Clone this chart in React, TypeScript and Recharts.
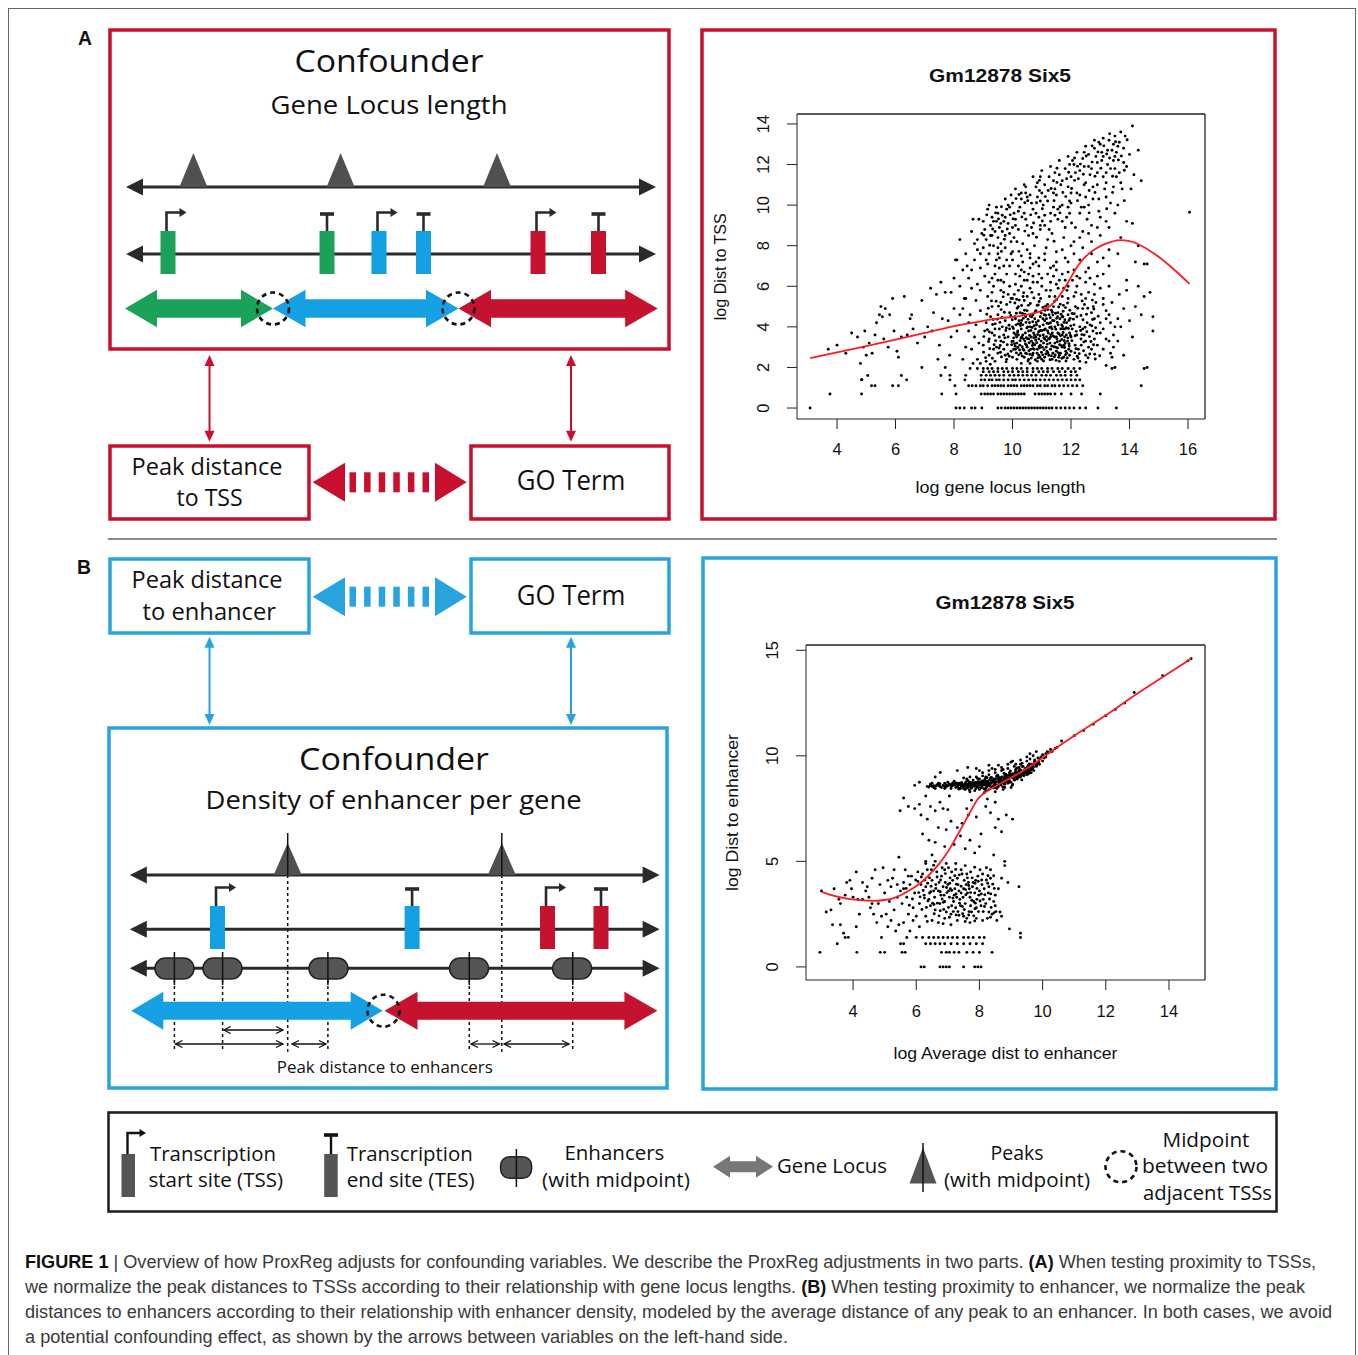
import React from 'react';
import { ScatterChart, Scatter, XAxis, YAxis, ReferenceLine } from 'recharts';

// ---------------- DATA ----------------
const xTicksA = [4, 6, 8, 10, 12, 14, 16];
const yTicksA = [0, 2, 4, 6, 8, 10, 12, 14];
const xTicksB = [4, 6, 8, 10, 12, 14];
const yTicksB = [0, 5, 10, 15];

// panel A: log gene locus length vs log Dist to TSS (flat x,y pairs)
const blobA = [
  9.0,3.1, 9.2,2.6, 9.1,4.2, 9.3,3.7, 9.4,2.3, 9.5,4.6, 9.6,3.3, 9.7,2.9, 9.8,5.1, 9.9,3.9, 10.0,2.5, 10.1,4.4, 10.2,3.6, 10.3,2.2, 10.4,5.3, 10.5,3.0, 10.6,4.0, 10.7,2.7, 10.8,4.8, 10.9,3.4, 11.0,2.4, 11.1,4.3, 11.2,3.8, 11.3,2.9, 11.4,5.0, 11.5,3.5, 11.6,2.6, 11.7,4.5, 11.8,3.2, 11.9,5.4, 12.0,2.8, 12.1,4.1, 12.2,3.6, 12.3,2.3, 12.4,4.9, 12.5,3.3, 12.6,5.7, 12.7,2.9, 12.8,4.4,
  8.9,4.8, 9.15,5.5, 9.35,2.9, 9.55,3.9, 9.75,4.3, 9.95,2.8, 10.15,3.2, 10.35,4.1, 10.55,2.4, 10.75,3.6, 10.95,4.5, 11.15,3.0, 11.35,3.9, 11.55,4.7, 11.75,2.5, 11.95,3.7, 12.15,5.0, 12.35,3.1, 12.55,4.2, 12.75,3.8,
  10.05,3.7, 10.25,3.1, 10.45,4.5, 10.65,3.3, 10.85,2.9, 11.05,3.6, 11.25,4.6, 11.45,3.2, 11.65,3.9, 11.85,4.2, 10.1,2.9, 10.3,3.9, 10.5,4.8, 10.7,3.2, 10.9,2.6, 11.1,3.4, 11.3,4.2, 11.5,2.8, 11.7,3.6, 11.9,4.6,
  10.12,4.1, 10.38,3.4, 10.62,2.9, 10.88,4.3, 11.12,3.9, 11.38,2.7, 11.62,4.4, 11.88,3.3, 10.2,5.0, 10.45,2.7, 10.7,4.6, 10.95,3.1, 11.2,5.1, 11.45,4.0, 11.7,3.0, 11.95,2.6,
  10.0,4.0, 10.35,3.6, 10.55,3.8, 10.8,3.5, 11.05,4.1, 11.3,3.5, 11.55,3.7, 11.8,3.9, 10.15,2.4, 10.4,2.5, 10.6,2.2, 10.85,2.3, 11.1,2.5, 11.35,2.4, 11.6,2.3, 11.85,2.7, 12.1,2.4,
  9.2,3.4, 9.45,3.0, 9.65,4.0, 9.85,3.5, 9.25,4.5, 9.5,2.7, 9.7,3.6, 9.9,4.7, 9.1,2.3, 9.4,3.9, 9.6,5.2, 9.8,2.4, 9.05,3.8, 9.3,5.0, 9.55,3.5, 9.75,2.6, 9.95,5.4,
  12.0,3.5, 12.2,4.5, 12.4,3.9, 12.6,3.0, 12.8,3.4, 12.1,5.5, 12.3,4.0, 12.5,2.6, 12.7,4.7, 12.9,3.1, 12.25,2.9, 12.45,3.6, 12.65,4.1, 12.85,5.2, 13.0,3.7, 13.1,2.9, 13.2,4.4, 13.3,3.3, 13.4,2.5, 13.5,4.0,
  8.6,2.9, 8.7,3.5, 8.8,2.4, 8.75,4.1, 8.5,3.8, 8.65,2.2, 8.85,3.2, 8.55,4.6, 8.4,3.0, 8.9,2.2,
  10.5,5.5, 10.9,5.6, 11.3,5.8, 11.7,5.5, 10.2,5.8, 11.0,6.0, 11.5,6.1, 10.7,6.2, 9.9,6.0, 11.8,6.3, 12.2,6.0, 12.5,5.4, 9.6,5.8, 10.4,6.3,
  10.02,3.3, 10.18,3.8, 10.28,2.7, 10.42,3.3, 10.58,4.2, 10.68,2.6, 10.78,3.9, 10.92,3.8, 11.02,3.0, 11.08,4.6, 11.18,2.8, 11.28,3.2, 11.42,4.3, 11.52,3.4, 11.58,2.5, 11.68,4.1, 11.78,3.5, 11.92,2.9, 10.08,4.5, 10.22,4.3, 10.32,3.5, 10.48,3.1, 10.52,4.0, 10.72,3.7, 10.82,4.1, 10.98,3.3, 11.22,3.7, 11.32,4.0, 11.48,3.0, 11.62,3.3, 11.72,4.5, 11.82,2.8,
  10.14,3.5, 10.36,2.9, 10.64,3.5, 10.76,4.4, 10.94,2.5, 11.16,4.4, 11.36,3.7, 11.56,4.1, 11.76,3.1, 10.26,4.7, 10.44,3.7, 10.66,4.5, 10.84,2.7, 11.04,4.4, 11.24,2.6, 11.44,3.5, 11.64,2.7, 11.84,3.6, 10.04,2.9, 10.56,3.4, 10.74,2.9, 11.06,3.2, 11.26,3.4, 11.54,4.5, 11.74,3.9, 12.04,3.9, 12.14,3.1, 12.34,3.4,
  10.09,3.05, 10.19,4.15, 10.29,3.45, 10.39,2.85, 10.49,3.95, 10.59,2.65, 10.69,4.25, 10.79,3.35, 10.89,3.75, 10.99,2.75, 11.09,3.85, 11.19,3.15, 11.29,4.45, 11.39,3.55, 11.49,2.35, 11.59,3.65, 11.69,2.45, 11.79,4.35, 11.89,3.45, 11.99,4.05,
  9.59,2.75, 9.69,3.25, 9.79,3.95, 9.89,2.55, 9.99,4.35, 10.31,5.05, 10.61,5.15, 10.91,5.25, 11.21,4.85, 11.51,5.35, 11.81,4.95, 12.11,4.65, 12.41,4.35, 12.71,4.05, 12.21,2.55, 12.51,2.25, 12.81,2.65, 9.41,4.15, 9.21,3.75, 9.01,2.75, 9.31,2.45, 9.61,4.85,
  10.06,5.6, 10.36,5.5, 10.66,5.7, 10.96,5.4, 11.26,5.5, 11.56,5.9, 11.86,5.8, 12.16,5.7, 12.46,5.1, 12.76,5.0,
];
const blobA2 = [
  9.02,3.52, 9.12,4.62, 9.22,2.92, 9.32,4.12, 9.42,3.32, 9.52,5.02, 9.62,2.52, 9.72,4.72, 9.82,3.12, 9.92,5.22, 10.03,3.92, 10.13,2.72, 10.23,5.32, 10.33,3.02, 10.43,4.62, 10.53,2.32, 10.63,3.82, 10.73,5.42, 10.83,3.22, 10.93,4.02, 11.03,2.62, 11.13,5.02, 11.23,3.42, 11.33,4.82, 11.43,2.52, 11.53,4.22, 11.63,5.12, 11.73,3.72, 11.83,2.32, 11.93,4.32, 12.03,3.32, 12.13,2.72, 12.23,4.92, 12.33,3.82, 12.43,2.82, 12.53,4.62, 12.63,3.52, 12.73,5.32, 12.83,2.42, 12.93,4.52,
  9.08,2.48, 9.18,3.28, 9.28,5.28, 9.38,3.58, 9.48,4.38, 9.58,3.08, 9.68,5.48, 9.78,2.28, 9.88,4.08, 9.98,3.28, 10.08,5.18, 10.18,2.98, 10.28,4.18, 10.38,5.68, 10.48,2.68, 10.58,3.58, 10.68,3.08, 10.78,2.38, 10.88,5.08, 10.98,4.68, 11.08,2.88, 11.18,4.18, 11.28,2.38, 11.38,4.58, 11.48,3.88, 11.58,4.98, 11.68,3.38, 11.78,2.98, 11.88,5.18, 11.98,3.58, 12.08,4.38, 12.18,3.78, 12.28,2.68, 12.38,5.28, 12.48,3.98, 12.58,2.48, 12.68,3.28, 12.78,4.88, 12.88,3.68, 12.98,2.58,
  10.11,3.62, 10.21,2.62, 10.31,4.32, 10.41,4.82, 10.51,3.42, 10.61,4.52, 10.71,2.92, 10.81,4.22, 10.91,3.02, 11.01,3.82, 11.11,4.82, 11.21,2.72, 11.31,3.62, 11.41,3.02, 11.51,4.42, 11.61,3.12, 11.71,4.02, 11.81,2.62, 11.91,3.92, 10.16,4.92, 10.46,4.22, 10.76,3.12, 11.06,2.32, 11.36,4.72, 11.66,4.62, 11.96,4.82, 10.26,3.32, 10.56,2.82, 10.86,3.62, 11.16,3.52, 11.46,2.62, 11.76,4.22,
  9.5,6.3, 9.8,6.6, 10.1,6.1, 10.4,6.7, 10.7,6.5, 11.0,6.4, 11.3,6.9, 11.6,6.3, 11.9,6.0, 12.2,6.5, 12.5,6.2, 12.8,5.6, 13.1,5.1, 13.3,4.6, 13.45,3.6, 13.6,4.4, 13.2,3.4, 13.0,4.2, 13.1,3.9, 13.35,2.7, 9.35,6.0, 9.7,5.7, 10.0,5.4, 10.25,6.5, 10.55,6.6, 10.85,6.2, 11.15,5.8, 11.45,5.5, 11.75,5.9, 12.05,6.3, 12.35,5.6, 12.65,6.4,
];
const blobA3 = [
  9.14,3.86, 9.24,2.16, 9.34,4.36, 9.44,5.26, 9.54,2.96, 9.64,4.46, 9.74,3.46, 9.84,2.66, 9.94,4.56, 10.04,3.46, 10.14,5.36, 10.24,2.86, 10.34,4.66, 10.44,3.16, 10.54,5.06, 10.64,2.46, 10.74,4.06, 10.84,5.06, 10.94,3.56, 11.04,4.96, 11.14,2.66, 11.24,4.16, 11.34,3.06, 11.44,5.26, 11.54,2.96, 11.64,3.56, 11.74,5.06, 11.84,3.96, 11.94,3.06, 12.04,4.66, 12.14,3.56, 12.24,2.46, 12.34,4.56, 12.44,3.26, 12.54,3.76, 12.64,2.66, 12.74,4.36, 12.84,3.96,
  9.17,4.92, 9.37,3.12, 9.57,4.22, 9.77,3.82, 9.97,3.12, 10.17,3.72, 10.37,4.42, 10.57,3.22, 10.77,4.72, 10.97,3.82, 11.17,3.32, 11.37,4.32, 11.57,2.72, 11.77,3.32, 11.97,4.42, 12.17,2.92, 12.37,3.62, 12.57,4.92, 12.77,3.12,
  10.07,3.17, 10.27,4.07, 10.47,3.47, 10.67,3.97, 10.87,2.47, 11.07,3.47, 11.27,3.97, 11.47,4.67, 11.67,3.07, 11.87,2.47, 10.13,4.67, 10.33,2.57, 10.53,4.37, 10.73,3.47, 10.93,2.97, 11.13,4.57, 11.33,2.57, 11.53,3.27, 11.73,4.77, 11.93,3.17,
  8.6,6.8, 8.9,5.8, 9.1,7.3, 9.3,6.4, 9.5,7.6, 9.7,6.2, 9.9,7.0, 10.1,6.6, 10.3,7.5, 10.5,6.3, 10.7,7.1, 10.9,6.6, 11.1,7.3, 11.3,6.2, 11.5,6.8, 11.7,6.6, 11.9,7.2, 12.1,6.8, 12.3,7.3, 12.5,6.7, 12.7,7.6, 12.9,6.5, 13.1,7.4, 13.3,7.8, 8.4,7.6, 8.2,8.3, 8.8,8.3, 9.4,7.0, 10.0,7.7, 10.6,7.4,
];
const bandA = [
  8.6,8.7, 8.8,7.8, 9.0,9.2, 9.1,8.3, 9.2,7.6, 9.3,9.4, 9.4,8.7, 9.5,9.6, 9.6,8.1, 9.7,9.2, 9.8,9.8, 9.9,8.6, 10.0,10.1, 10.1,9.3, 10.2,8.8, 10.3,10.3, 10.4,9.6, 10.5,9.0, 10.6,10.5, 10.7,9.8, 10.8,10.9, 10.9,9.4, 11.0,10.6, 11.1,11.0, 11.2,10.2, 11.3,9.6, 11.4,11.2, 11.5,10.5, 11.6,11.5, 11.7,10.0, 11.8,11.8, 11.9,10.9, 12.0,11.4, 12.1,12.0, 12.2,10.6, 12.3,11.7, 12.4,12.3, 12.5,11.1, 12.6,12.5, 12.7,11.8, 12.8,12.8, 12.9,12.1, 13.0,13.0, 13.1,12.4, 13.2,11.6, 13.3,13.2, 13.4,12.7, 13.5,13.4, 13.6,12.9, 13.7,13.6, 13.45,12.2, 13.25,12.0,
  9.05,8.8, 9.25,9.0, 9.45,9.9, 9.65,9.5, 9.85,10.0, 10.05,9.6, 10.25,9.9, 10.45,10.6, 10.65,10.1, 10.85,10.4, 11.05,10.0, 11.25,11.4, 11.45,10.8, 11.65,11.0, 11.85,11.3, 12.05,12.2, 12.25,11.3, 12.45,11.9, 12.65,11.5, 12.85,12.4, 13.05,12.6, 13.25,12.7, 13.55,12.6, 13.65,13.1, 13.85,13.4,
  9.15,7.1, 9.35,8.0, 9.55,7.4, 9.75,8.5, 9.95,7.6, 10.15,8.2, 10.35,7.2, 10.55,8.5, 10.75,8.0, 10.95,8.8, 11.15,7.9, 11.35,8.6, 11.55,9.3, 11.75,8.4, 11.95,9.6, 12.15,8.9, 12.35,9.9, 12.55,9.3, 12.75,10.3, 12.95,9.7, 13.15,10.8, 13.35,10.1, 13.55,11.4, 13.75,10.8, 13.9,11.9,
  10.1,10.8, 10.4,11.0, 10.7,11.4, 11.0,11.7, 11.3,11.9, 11.6,12.2, 11.9,12.4, 12.2,12.6, 12.5,12.9, 12.8,13.2, 13.1,13.3, 11.1,9.0, 11.4,9.9, 11.7,9.2, 12.0,10.1, 12.3,10.5, 12.6,10.0, 12.9,11.0, 13.2,11.1, 10.6,7.6, 10.9,7.4, 11.2,8.3, 11.5,7.7, 11.8,8.9, 12.1,8.2, 12.4,8.7, 12.7,9.0, 13.0,9.4, 13.3,8.9,
  9.4,6.6, 9.7,7.0, 10.0,7.3, 10.3,6.8, 10.6,6.9, 10.9,7.0, 11.2,6.6, 11.5,7.2, 11.8,7.4, 12.1,7.6, 12.4,7.9, 12.7,8.2, 13.0,8.5, 9.2,6.2, 8.9,6.9, 8.7,7.3, 8.5,6.4, 8.3,6.8, 8.8,6.1, 9.6,6.3,
  13.5,11.8, 13.6,10.0, 13.8,12.8, 14.0,12.5, 14.1,13.9, 14.15,11.5, 14.05,10.8, 13.9,9.2, 14.3,12.7, 14.4,11.2, 14.2,7.2, 13.7,8.4,
  9.35,9.2, 9.55,8.9, 9.75,9.4, 9.5,8.4, 9.85,9.1, 10.0,8.9, 9.25,8.5, 9.65,8.7,
];
const bandA2 = [
  9.12,9.52, 9.32,8.82, 9.52,9.32, 9.72,8.32, 9.92,9.52, 10.12,10.32, 10.32,9.42, 10.52,10.22, 10.72,9.12, 10.92,10.72, 11.12,10.42, 11.32,10.82, 11.52,11.12, 11.72,10.62, 11.92,11.62, 12.12,11.22, 12.32,12.02, 12.52,12.42, 12.72,12.12, 12.92,12.62, 13.12,12.92, 13.32,12.32, 13.52,13.12, 13.72,12.42, 13.92,13.22,
  9.22,8.02, 9.42,9.62, 9.62,9.92, 9.82,8.82, 10.02,9.32, 10.22,10.52, 10.42,10.12, 10.62,9.52, 10.82,10.12, 11.02,9.22, 11.22,10.72, 11.42,10.22, 11.62,9.62, 11.82,10.42, 12.02,10.82, 12.22,11.92, 12.42,11.52, 12.62,10.72, 12.82,11.42, 13.02,11.82, 13.22,12.52, 13.42,11.42, 13.62,12.22, 13.82,11.72,
  9.02,8.52, 9.62,7.72, 10.22,7.72, 10.82,8.42, 11.42,8.22, 12.02,9.12, 12.62,9.62, 13.22,9.82, 13.82,10.22, 10.42,8.72, 11.02,9.82, 11.62,9.92, 12.22,10.22, 12.82,10.62, 13.42,10.62, 10.92,11.22, 11.52,11.82, 12.12,12.32, 12.72,12.92, 13.32,13.52,
  9.8,7.3, 10.2,7.0, 10.5,7.8, 10.8,7.2, 11.1,7.6, 11.4,7.0, 11.7,7.8, 12.0,8.0, 12.3,8.4, 12.6,8.6, 12.9,8.9, 13.2,9.2, 13.5,9.6, 8.9,7.6, 9.5,7.9, 10.1,9.0, 10.7,8.6, 11.3,9.2, 11.9,9.9, 12.5,10.4, 13.1,11.4, 13.7,11.1,
];
const bandA3 = [
  8.7,8.1, 8.85,9.3, 9.0,7.9, 9.15,9.8, 9.3,8.5, 9.45,7.3, 9.6,9.1, 9.75,7.9, 9.9,9.9, 10.05,8.4, 10.2,9.7, 10.35,8.1, 10.5,10.4, 10.65,8.9, 10.8,9.6, 10.95,10.2, 11.1,9.5, 11.25,8.8, 11.4,10.6, 11.55,9.8, 11.7,11.2, 11.85,9.4, 12.0,10.6, 12.15,11.6, 12.3,9.6, 12.45,11.0, 12.6,11.9, 12.75,10.9, 12.9,11.6, 13.05,12.2, 13.2,10.4, 13.35,11.8, 13.5,12.4, 13.65,11.6, 13.8,12.1,
  9.95,10.5, 10.45,10.9, 10.95,11.4, 11.45,11.6, 11.95,12.0, 12.45,12.6, 12.95,13.1, 13.45,13.0, 8.95,8.6, 9.45,9.2, 9.95,8.2, 10.45,9.3, 10.95,9.0, 11.45,9.5, 11.95,10.2, 12.45,9.9, 12.95,10.3, 13.45,10.9, 8.65,9.3, 9.2,10.0, 9.75,10.3, 10.3,10.6, 10.85,11.1,
];
const sparseA = [
  8.1,7.3, 8.2,6.0, 8.4,5.4, 8.6,5.9, 8.0,6.4, 8.3,4.9, 7.9,5.7, 8.45,7.0, 8.75,5.3, 9.05,6.5, 9.3,5.7, 9.55,6.9, 9.85,5.6, 10.3,6.0, 10.6,5.9, 11.4,6.5, 11.9,6.7, 12.3,6.4, 12.6,6.9, 12.9,7.2, 12.8,6.1, 13.1,6.6, 13.3,7.0, 13.0,5.9,
  13.2,2.1, 13.5,2.0, 13.6,3.3, 13.8,4.9, 13.9,5.8, 14.0,4.3, 14.1,3.5, 14.2,5.0, 14.3,6.0, 14.4,4.6, 14.5,5.5, 14.6,2.0, 14.8,4.5, 14.8,3.8, 14.7,5.7, 14.5,7.1, 14.3,8.0, 14.6,7.1, 14.1,9.1, 13.9,6.3, 13.7,4.0, 13.4,5.2, 13.3,6.0, 13.6,7.6, 13.2,4.8, 13.45,3.0, 13.8,2.6, 16.05,9.65, 13.1,5.4, 13.35,4.2, 13.65,5.6,
  3.7,2.9, 4.0,3.1, 4.3,2.7, 4.5,3.7, 4.7,3.5, 4.8,2.2, 4.85,1.4, 4.95,3.8, 5.1,3.2, 5.2,2.7, 5.3,3.6, 5.35,4.2, 5.45,4.6, 5.5,5.0, 5.6,3.4, 5.65,4.9, 5.75,3.0, 5.8,4.6, 5.9,5.4, 5.95,3.8, 6.05,2.8, 6.1,2.5, 6.2,3.5, 6.3,5.5, 6.4,3.6, 6.5,4.4, 6.6,3.9, 6.75,3.2, 6.9,5.3, 7.0,3.5, 7.1,4.0, 7.2,5.9, 7.3,4.7, 7.4,5.6, 7.5,3.1, 7.55,6.2, 7.6,4.4, 7.7,5.7, 7.8,4.3, 7.9,3.5, 8.0,4.9, 8.05,7.3, 8.1,3.8, 8.2,4.6, 8.3,2.4, 8.35,5.4, 8.5,4.2, 7.85,2.6, 7.45,2.4, 5.0,2.6, 5.3,1.1, 6.2,1.6, 5.05,1.6, 6.9,2.0, 7.55,1.6, 7.7,2.0, 4.9,3.0, 6.55,4.6, 7.25,3.8, 5.55,4.5,
];
const rowsA = [
  { y: 0, xs: [3.08, 8.07, 8.2, 8.35, 8.6, 8.72, 8.95, 9.5, 9.62, 9.75, 9.85, 9.95, 10.05, 10.15, 10.25, 10.35, 10.45, 10.55, 10.65, 10.75, 10.85, 10.95, 11.05, 11.15, 11.25, 11.35, 11.5, 11.65, 11.8, 11.95, 12.1, 12.3, 12.5, 12.92, 13.55] },
  { y: 0.69, xs: [3.76, 4.84, 7.58, 8.07, 8.93, 9.05, 9.15, 9.25, 9.35, 9.5, 9.6, 9.7, 9.8, 9.9, 10.0, 10.1, 10.2, 10.3, 10.4, 10.77, 10.9, 11.0, 11.1, 11.2, 11.3, 11.45, 11.67, 12.0, 12.36, 13.0] },
  { y: 1.1, xs: [5.18, 5.9, 6.1, 8.03, 8.5, 8.62, 8.75, 8.9, 9.0, 9.15, 9.3, 9.4, 9.5, 9.6, 9.7, 9.85, 9.95, 10.05, 10.15, 10.3, 10.4, 10.5, 10.6, 10.7, 10.85, 10.95, 11.1, 11.2, 11.35, 11.45, 11.6, 11.75, 11.9, 12.05, 12.2, 12.4, 14.4] },
  { y: 1.39, xs: [4.84, 6.38, 7.86, 8.37, 8.93, 9.05, 9.2, 9.3, 9.45, 9.55, 9.7, 9.85, 10.0, 10.1, 10.25, 10.4, 10.55, 10.7, 10.8, 10.95, 11.1, 11.25, 11.4, 11.55, 11.7, 11.85, 12.0, 12.15, 12.3] },
  { y: 1.61, xs: [7.86, 8.4, 8.93, 9.1, 9.25, 9.4, 9.55, 9.7, 9.9, 10.05, 10.2, 10.35, 10.5, 10.65, 10.8, 11.0, 11.15, 11.3, 11.5, 11.65, 11.8, 12.0, 12.2] },
  { y: 1.79, xs: [9.0, 9.2, 9.35, 9.5, 9.7, 9.85, 10.0, 10.2, 10.35, 10.5, 10.7, 10.9, 11.05, 11.2, 11.4, 11.6, 11.8, 12.0, 12.15] },
  { y: 1.95, xs: [8.55, 8.8, 9.0, 9.15, 9.3, 9.5, 9.65, 9.8, 10.0, 10.15, 10.3, 10.5, 10.7, 10.85, 11.0, 11.2, 11.35, 11.55, 11.7, 11.9, 12.1, 12.3, 13.4, 14.5] },
];
const curveA = [
  [3.08, 2.46], [4, 2.74], [5, 3.05], [6, 3.37], [7, 3.7], [8, 4.04], [9, 4.3], [9.6, 4.43], [10.1, 4.5], [10.5, 4.6], [11, 4.8], [11.3, 5.05], [11.56, 5.45], [11.8, 5.95], [12.0, 6.45], [12.25, 7.05], [12.6, 7.6], [12.9, 7.9], [13.2, 8.1], [13.67, 8.27], [14.0, 8.22], [14.4, 8.0], [14.9, 7.55], [15.5, 6.85], [16.05, 6.12],
];

// panel B: log Average dist to enhancer vs log Dist to enhancer
const bandB = [
  6.35,8.55, 6.45,8.6, 6.55,8.5, 6.65,8.62, 6.75,8.55, 6.85,8.6, 6.95,8.52, 7.05,8.65, 7.15,8.58, 7.25,8.5, 7.35,8.63, 7.45,8.55, 7.55,8.7, 7.65,8.6, 7.75,8.5, 7.85,8.68, 7.95,8.58, 8.05,8.75, 8.15,8.62, 8.25,8.8, 8.35,8.7, 8.45,8.9, 8.55,8.78, 8.65,8.95, 8.75,8.85, 8.85,9.05, 8.95,8.95, 9.05,9.15, 9.15,9.05, 9.25,9.3, 9.35,9.2, 9.45,9.4, 9.55,9.55, 9.65,9.6, 9.75,9.8, 9.85,9.9,
  7.0,8.75, 7.2,8.8, 7.4,8.45, 7.6,8.9, 7.8,8.85, 7.9,9.0, 8.0,8.4, 8.1,9.05, 8.2,8.45, 8.3,9.1, 8.4,8.5, 8.5,9.2, 8.6,8.55, 8.7,9.3, 8.8,8.65, 8.9,9.4, 9.0,8.75, 9.1,9.5, 9.2,8.9, 9.3,9.6, 9.4,9.05, 9.5,9.75, 9.6,9.2, 9.7,10.0,
  7.7,8.3, 7.85,8.35, 8.0,8.9, 8.15,8.25, 8.3,8.4, 8.45,8.6, 8.6,9.0, 8.75,8.4, 8.9,8.7, 9.05,8.65, 9.2,9.2, 9.35,9.5, 9.5,9.1, 9.65,9.35, 8.1,8.7, 8.25,8.55, 8.4,8.85, 8.55,8.45, 8.7,8.7, 8.85,8.8, 9.0,9.0, 9.15,9.35, 9.3,9.0,
  7.5,8.45, 7.3,8.7, 7.1,8.45, 6.9,8.7, 6.6,8.45, 6.5,8.7, 6.7,8.7, 6.9,8.45, 7.25,8.72, 7.55,8.4, 7.7,8.75, 7.95,8.78, 8.2,9.0, 8.35,8.95, 8.5,8.5, 8.65,8.8, 8.8,9.1, 8.95,9.2, 9.1,8.85, 9.25,9.45, 9.4,9.25, 9.55,9.35, 9.7,9.5, 9.8,9.7, 9.9,9.85, 10.0,10.05, 10.1,10.1, 10.2,10.15, 10.3,10.2,
  8.1,9.2, 8.3,9.3, 8.5,9.35, 8.7,9.45, 8.9,9.6, 9.0,9.7, 9.3,9.8, 9.5,9.95, 9.6,10.1, 9.8,10.2, 8.2,8.35, 8.5,8.3, 8.8,8.5, 9.0,8.5, 7.7,9.0, 7.5,8.95, 8.0,9.3,
  7.52,8.62, 7.62,8.48, 7.72,8.66, 7.82,8.56, 7.92,8.72, 8.02,8.6, 8.12,8.82, 8.22,8.68, 8.32,8.86, 8.42,8.74, 8.52,8.92, 8.62,8.82, 8.72,9.0, 8.82,8.92, 8.92,9.08, 9.02,9.02, 9.12,9.18, 9.22,9.12, 9.32,9.32, 9.42,9.28, 9.52,9.46, 9.62,9.44, 9.72,9.62,
  7.58,8.78, 7.68,8.38, 7.78,8.74, 7.88,8.44, 7.98,8.66, 8.08,8.52, 8.18,8.9, 8.28,8.62, 8.38,8.98, 8.48,8.66, 8.58,9.08, 8.68,8.62, 8.78,9.18, 8.88,8.88, 8.98,9.28, 9.08,8.92, 9.18,9.42, 9.28,9.08, 9.38,9.5, 9.48,9.2, 9.58,9.62, 9.68,9.4, 9.78,9.58, 9.88,9.72, 9.95,9.95, 10.05,9.9, 10.15,10.2,
  8.05,8.48, 8.35,8.55, 8.65,8.7, 8.95,8.82, 7.45,8.68, 7.35,8.42, 7.15,8.7, 6.95,8.62, 6.75,8.68, 6.55,8.58, 6.4,8.52,
  10.45,10.4, 10.6,10.7, 11.0,10.95, 11.3,11.2, 11.6,11.5, 12.0,11.9, 12.3,12.2, 12.6,12.5, 12.9,13.0, 13.8,13.8, 14.6,14.5, 14.7,14.6,
  6.76,9.21, 7.63,9.45, 6.1,8.75, 5.95,8.6, 6.6,9.0, 7.3,9.3, 8.6,9.55, 9.05,9.75, 8.3,9.55, 7.9,9.4,
];
const bandB2 = [
  7.3,8.56, 7.4,8.64, 7.5,8.52, 7.6,8.66, 7.7,8.54, 7.8,8.7, 7.9,8.58, 8.0,8.76, 8.1,8.62, 8.2,8.8, 8.3,8.66, 8.4,8.84, 8.5,8.72, 8.6,8.9, 8.7,8.78, 8.8,8.98, 8.9,8.86, 9.0,9.06, 9.1,8.96, 9.2,9.14, 9.3,9.08, 9.4,9.2, 9.5,9.3, 9.6,9.32, 9.7,9.46, 9.8,9.5,
  7.34,8.48, 7.44,8.74, 7.54,8.58, 7.64,8.82, 7.74,8.46, 7.84,8.62, 7.94,8.92, 8.04,8.66, 8.14,8.44, 8.24,8.96, 8.34,8.62, 8.44,8.48, 8.54,9.04, 8.64,8.68, 8.74,8.52, 8.84,9.12, 8.94,8.76, 9.04,8.6, 9.14,9.26, 9.24,8.98, 9.34,8.86, 9.44,9.36, 9.54,9.14, 9.64,9.2, 9.74,9.72, 9.84,9.64,
  7.27,8.6, 7.47,8.6, 7.67,8.7, 7.87,8.74, 8.07,8.7, 8.27,8.74, 8.47,8.8, 8.67,8.86, 8.87,8.96, 9.07,9.1, 9.27,9.2, 9.47,9.36, 9.67,9.56, 7.37,8.7, 7.57,8.46, 7.77,8.62, 7.97,8.5, 8.17,8.72, 8.37,8.76, 8.57,8.62, 8.77,8.7, 8.97,9.0, 9.17,8.98, 9.37,9.12, 9.57,9.28, 6.8,8.5, 6.62,8.56, 7.0,8.58, 6.45,8.65, 7.1,8.62, 7.2,8.64,
  9.9,9.6, 10.0,9.75, 10.1,9.95, 9.35,9.65, 9.15,9.6, 8.4,9.4, 8.75,9.35, 9.6,9.85, 10.25,10.3, 10.4,10.35,
  7.42,8.58, 7.58,8.64, 7.72,8.58, 7.88,8.68, 8.02,8.64, 8.18,8.76, 8.32,8.7, 8.48,8.86, 8.62,8.76, 8.78,8.92, 8.92,8.9, 9.08,9.04, 9.22,9.04, 9.38,9.24, 9.52,9.22, 9.68,9.38, 9.82,9.56, 7.62,8.54, 7.78,8.66, 7.92,8.52, 8.08,8.8, 8.22,8.58, 8.38,8.82, 8.52,8.62, 8.68,8.96, 8.82,8.78, 8.98,9.12, 9.12,8.86, 9.28,9.36, 9.42,9.1, 9.58,9.5, 9.72,9.3, 6.5,8.56, 6.7,8.6, 6.9,8.56, 7.1,8.54, 7.3,8.62,
];
const midB = [
  5.49,7.4, 5.75,7.6, 5.95,7.5, 6.1,7.7, 6.35,7.0, 6.45,7.6, 6.2,6.3, 6.3,8.1, 6.6,7.4, 6.75,7.8, 6.85,7.5, 7.0,7.45, 7.1,6.9, 7.3,6.6, 7.45,6.8, 7.6,7.5, 7.75,7.9, 7.9,7.1, 8.05,6.3, 8.2,7.6, 8.35,7.3, 8.5,7.8, 8.6,7.0, 8.7,6.4, 8.85,7.2, 9.05,7.0, 8.0,5.7, 7.85,5.4, 7.7,6.0, 7.4,6.2, 7.2,5.8, 6.9,5.7, 6.6,5.9, 6.4,6.0, 6.5,5.3, 6.3,5.0, 6.95,6.5, 7.55,5.6, 8.45,5.3, 8.8,5.0, 7.25,4.9, 8.5,6.6, 6.15,7.2, 5.6,8.0, 6.7,6.6, 8.25,7.95, 7.65,7.2, 7.05,8.1,
];
const blobB = [
  6.2,4.4, 6.3,3.8, 6.4,3.2, 6.5,4.1, 6.6,2.7, 6.7,3.6, 6.8,4.3, 6.9,3.1, 7.0,3.9, 7.1,2.5, 7.2,3.4, 7.3,4.2, 7.4,2.9, 7.5,3.7, 7.6,2.3, 7.7,3.3, 7.8,4.0, 7.9,2.8, 8.0,3.6, 8.1,4.4, 8.2,3.0, 8.3,3.8, 8.4,2.5, 8.5,3.4,
  6.25,3.4, 6.35,4.6, 6.45,2.9, 6.55,3.6, 6.65,4.5, 6.75,3.0, 6.85,3.8, 6.95,2.6, 7.05,3.3, 7.15,4.1, 7.25,2.8, 7.35,3.6, 7.45,4.4, 7.55,3.0, 7.65,4.0, 7.75,2.6, 7.85,3.5, 7.95,4.3, 8.05,2.9, 8.15,3.7, 8.25,2.3, 8.35,4.2, 8.45,3.1,
  6.1,3.0, 6.15,3.9, 6.05,4.5, 5.95,3.5, 5.9,2.8, 5.8,3.9, 5.85,4.3, 6.0,2.4, 5.7,3.3, 5.65,4.6, 5.75,2.5, 5.55,3.0, 5.6,4.0, 5.5,3.6,
  6.3,2.4, 6.5,2.2, 6.7,2.1, 6.9,2.3, 7.1,2.0, 7.3,2.2, 7.5,2.4, 7.7,2.1, 7.9,2.3, 8.1,2.2, 8.3,2.6, 8.5,2.9, 8.6,3.7, 8.55,2.2, 8.65,2.6,
  6.42,3.5, 6.58,3.3, 6.72,4.0, 6.88,3.4, 7.02,3.6, 7.18,3.1, 7.32,3.9, 7.48,3.3, 7.62,3.5, 7.78,3.8, 7.92,3.2, 8.08,3.9, 6.62,3.9, 6.78,3.4, 6.92,4.0, 7.08,3.7, 7.22,3.7, 7.38,3.2, 7.52,4.1, 7.68,3.7, 7.82,3.1, 7.98,3.4, 8.12,3.2, 8.28,3.5, 7.12,2.9, 7.28,3.3, 7.42,3.5, 7.58,3.9, 7.72,2.9, 7.88,4.1,
  7.12,4.5, 7.42,4.6, 7.02,4.7, 6.82,4.7, 6.48,4.6, 7.72,4.5, 8.02,4.6, 8.22,4.7, 6.3,4.9, 6.6,5.0, 6.95,4.9, 7.55,4.8, 8.35,4.6, 8.7,4.2, 8.9,4.0, 9.25,3.8, 8.8,4.8, 8.7,2.4, 8.95,1.8, 9.3,1.6,
  3.0,3.6, 3.15,2.6, 3.3,2.7, 3.4,3.7, 3.55,3.2, 3.6,2.0, 3.75,3.4, 3.8,4.0, 3.9,4.1, 4.0,3.3, 4.1,4.5, 4.15,3.2, 4.3,3.2, 4.45,3.8, 4.55,2.8, 4.6,4.2, 4.7,4.6, 4.75,2.1, 4.85,3.9, 4.95,4.7, 5.0,3.5, 5.05,2.5, 5.15,3.1, 5.25,4.2, 5.3,2.7, 5.4,3.9, 5.45,5.2, 5.1,1.9, 5.35,1.7, 5.45,2.0, 4.9,2.4, 4.6,3.0, 4.2,2.5, 3.5,1.1, 3.85,1.4, 3.35,2.0, 4.4,3.6, 5.2,3.8, 3.7,1.6, 4.1,1.9, 5.6,2.1, 5.8,1.7, 5.5,1.1, 6.0,1.4, 6.1,1.9, 5.9,2.2,
];
const blobB2 = [
  6.22,3.62, 6.32,2.82, 6.42,4.22, 6.52,3.02, 6.62,3.72, 6.72,2.42, 6.82,3.22, 6.92,4.42, 7.02,2.82, 7.12,3.62, 7.22,4.32, 7.32,2.62, 7.42,3.82, 7.52,2.72, 7.62,4.22, 7.72,3.52, 7.82,2.42, 7.92,3.72, 8.02,3.12, 8.12,2.62, 8.22,4.12, 8.32,3.22, 8.42,3.92, 8.52,2.62,
  6.27,4.12, 6.37,3.12, 6.47,3.82, 6.57,2.52, 6.67,3.02, 6.77,4.12, 6.87,2.72, 6.97,3.52, 7.07,4.22, 7.17,2.62, 7.27,3.92, 7.37,3.02, 7.47,2.52, 7.57,3.42, 7.67,2.62, 7.77,4.22, 7.87,3.02, 7.97,2.62, 8.07,4.12, 8.17,3.42, 8.27,4.32, 8.37,2.82, 8.47,3.72,
  6.08,3.52, 6.18,2.72, 5.98,4.12, 5.88,3.22, 5.78,2.92, 5.68,3.72, 6.05,4.05, 6.12,3.32, 6.35,2.15, 6.85,2.05, 7.35,2.45, 7.85,2.18, 8.35,2.35, 7.05,2.35, 7.55,2.15, 6.55,4.82, 7.25,4.62, 7.85,4.72, 8.45,4.32, 6.9,4.6, 7.6,4.4,
  4.5,3.3, 4.8,3.0, 5.1,4.1, 5.4,3.3, 5.3,4.6, 4.3,4.0, 3.95,3.7, 5.6,3.7, 5.75,4.3, 5.2,2.2, 4.65,2.5, 3.6,3.0,
  6.26,3.26, 6.46,3.56, 6.66,4.26, 6.86,3.06, 7.06,3.96, 7.26,3.46, 7.46,2.86, 7.66,3.86, 7.86,2.76, 8.06,3.46, 8.26,3.96, 8.46,2.56, 6.36,3.96, 6.56,2.96, 6.76,3.56, 6.96,3.76, 7.16,3.26, 7.36,4.36, 7.56,3.66, 7.76,3.16, 7.96,4.06, 8.16,2.86, 8.36,3.46, 6.16,4.26, 7.86,3.96, 7.26,2.46, 6.76,2.66, 7.66,2.46,
];
const rowsB = [
  { y: 0, xs: [6.15, 6.25, 6.75, 6.85, 6.95, 7.05, 7.5, 7.85, 7.95, 8.05] },
  { y: 0.69, xs: [2.95, 4.12, 4.86, 5.0, 5.55, 5.65, 6.8, 6.95, 7.05, 7.2, 7.35, 7.6, 7.8, 8.0, 8.4] },
  { y: 1.1, xs: [5.6, 6.3, 6.45, 6.6, 6.75, 6.9, 7.1, 7.3, 7.5, 7.7, 7.9, 8.1] },
  { y: 1.39, xs: [3.75, 4.9, 5.7, 6.2, 6.4, 6.55, 6.7, 6.85, 7.0, 7.15, 7.3, 7.5, 7.65, 7.8, 8.0, 8.15, 9.3] },
];
const curveB = [
  [3.0, 3.55], [3.4, 3.36], [3.85, 3.22], [4.3, 3.15], [4.7, 3.13], [5.0, 3.17], [5.23, 3.24], [5.45, 3.36], [5.65, 3.52], [5.87, 3.7], [6.07, 3.9], [6.3, 4.2], [6.5, 4.5], [6.72, 4.88], [6.92, 5.28], [7.1, 5.7], [7.24, 6.07], [7.4, 6.5], [7.56, 6.93], [7.7, 7.32], [7.82, 7.64], [7.92, 7.9], [8.02, 8.07], [8.19, 8.27], [8.5, 8.55], [8.83, 8.82], [9.15, 9.08], [9.46, 9.37], [9.9, 9.8], [10.3, 10.24], [11.0, 10.95], [12.0, 11.92], [13.0, 12.95], [14.0, 13.92], [14.7, 14.6],
];

// ---------------- helpers ----------------
type P = { x: number; y: number };
const pairs = (a: number[]): P[] => {
  const out: P[] = [];
  for (let i = 0; i + 1 < a.length; i += 2) out.push({ x: a[i], y: a[i + 1] });
  return out;
};
const fromRows = (rows: { y: number; xs: number[] }[]): P[] =>
  rows.flatMap((r) => r.xs.map((x) => ({ x, y: r.y })));
const fromList = (l: number[][]): P[] => l.map(([x, y]) => ({ x, y }));

const ptsA = [...pairs(blobA), ...pairs(blobA2), ...pairs(blobA3), ...pairs(bandA), ...pairs(bandA2), ...pairs(bandA3), ...pairs(sparseA), ...fromRows(rowsA)];
const ptsB = [...pairs(bandB), ...pairs(bandB2), ...pairs(midB), ...pairs(blobB), ...pairs(blobB2), ...fromRows(rowsB)];

const FD = '"Open Sans", "Noto Sans", sans-serif';
const FR = '"Liberation Sans", Arial, Helvetica, sans-serif';
const RED = '#c8102e';
const BLUE = '#27a4de';
const GREEN = '#1ba25a';
const GBLUE = '#14a0e2';
const GRED = '#c4122f';
const DARK = '#2a2a2a';
const PEAK = '#505050';

const Dot = (p: any) => <circle cx={p.cx} cy={p.cy} r={1.45} fill="#000" />;
const NoDot = () => <g />;

const RotTick = (p: any) => (
  <text x={p.x} y={p.y} transform={`rotate(-90 ${p.x} ${p.y})`} textAnchor="middle" fontSize={16.5} fontFamily={FR} fill="#111">
    {p.payload.value}
  </text>
);

function ScatterPanel(props: {
  w: number; h: number; margin: any; xDom: number[]; yDom: number[]; xTicks: number[]; yTicks: number[];
  pts: P[]; curve: P[]; xTickMargin: number;
}) {
  const { w, h, margin, xDom, yDom, xTicks, yTicks, pts, curve, xTickMargin } = props;
  return (
    <ScatterChart width={w} height={h} margin={margin}>
      <XAxis type="number" dataKey="x" domain={xDom} ticks={xTicks} interval={0} allowDataOverflow tickSize={10}
        tickMargin={xTickMargin} height={60} stroke="#222" tick={{ fontSize: 16.5, fill: '#111', fontFamily: FR }} />
      <YAxis type="number" dataKey="y" domain={yDom} ticks={yTicks} interval={0} allowDataOverflow tickSize={10}
        tickMargin={18} width={60} stroke="#222" tick={RotTick} />
      <ReferenceLine y={yDom[1]} stroke="#222" strokeWidth={1.3} ifOverflow="visible" />
      <ReferenceLine x={xDom[1]} stroke="#222" strokeWidth={1.3} ifOverflow="visible" />
      <Scatter data={pts} isAnimationActive={false} shape={Dot} />
      <Scatter data={curve} isAnimationActive={false} shape={NoDot} line={{ stroke: '#ff1c1c', strokeWidth: 1.8 }}
        lineJointType="monotoneX" />
    </ScatterChart>
  );
}

function T(props: any) {
  const { x, y, w, size, children, anchor = 'middle', weight = 400, family = FD, fill = '#111', rotate } = props;
  return (
    <text x={x} y={y} fontSize={size} fontFamily={family} fontWeight={weight} fill={fill} textAnchor={anchor}
      textLength={w} lengthAdjust="spacingAndGlyphs" transform={rotate ? `rotate(${rotate} ${x} ${y})` : undefined}>
      {children}
    </text>
  );
}

const dbl = (x1: number, x2: number, y: number, hl: number, hh: number, sh: number) =>
  `M${x1},${y} L${x1 + hl},${y - hh} L${x1 + hl},${y - sh} L${x2 - hl},${y - sh} L${x2 - hl},${y - hh} L${x2},${y} L${x2 - hl},${y + hh} L${x2 - hl},${y + sh} L${x1 + hl},${y + sh} L${x1 + hl},${y + hh} Z`;

function ArrowLine({ x1, x2, y }: any) {
  return (
    <g>
      <line x1={x1 + 10} x2={x2 - 10} y1={y} y2={y} stroke={DARK} strokeWidth={3} />
      <path d={`M${x1},${y} L${x1 + 17},${y - 8.5} L${x1 + 17},${y + 8.5} Z`} fill={DARK} />
      <path d={`M${x2},${y} L${x2 - 17},${y - 8.5} L${x2 - 17},${y + 8.5} Z`} fill={DARK} />
    </g>
  );
}

function Tss({ x, top, color }: any) {
  return (
    <g>
      <rect x={x} y={top} width={15} height={43} fill={color} />
      <path d={`M${x + 6},${top} V${top - 18.5} H${x + 21}`} stroke={DARK} strokeWidth={2.6} fill="none" />
      <path d={`M${x + 26},${top - 18.5} L${x + 19},${top - 23} L${x + 19},${top - 14} Z`} fill={DARK} />
    </g>
  );
}
function Tes({ x, top, color }: any) {
  return (
    <g>
      <rect x={x} y={top} width={15} height={43} fill={color} />
      <line x1={x + 7.5} x2={x + 7.5} y1={top} y2={top - 17} stroke={DARK} strokeWidth={2.6} />
      <line x1={x + 0.5} x2={x + 14.5} y1={top - 17} y2={top - 17} stroke={DARK} strokeWidth={3.6} />
    </g>
  );
}
function Peak({ x, y, h = 34, hw = 14, fill = PEAK }: any) {
  return <path d={`M${x},${y - h} L${x - hw},${y} L${x + hw},${y} Z`} fill={fill} />;
}
function VArrow({ x, y1, y2, color }: any) {
  return (
    <g>
      <line x1={x} x2={x} y1={y1 + 6} y2={y2 - 6} stroke={color} strokeWidth={2} />
      <path d={`M${x},${y1} L${x - 5},${y1 + 11} L${x + 5},${y1 + 11} Z`} fill={color} />
      <path d={`M${x},${y2} L${x - 5},${y2 - 11} L${x + 5},${y2 - 11} Z`} fill={color} />
    </g>
  );
}
function DashArrow({ y, color }: any) {
  return (
    <g>
      <path d={`M312.7,${y} L345,${y - 19.5} L345,${y + 19.5} Z`} fill={color} />
      {[0, 1, 2, 3, 4, 5].map((i) => (
        <rect key={i} x={349.5 + i * 14.6} y={y - 10} width={6.5} height={20} fill={color} />
      ))}
      <path d={`M466.7,${y} L435,${y - 19.5} L435,${y + 19.5} Z`} fill={color} />
    </g>
  );
}
function DistArrow({ x1, x2, y }: any) {
  return (
    <g stroke="#111" strokeWidth={1.3} fill="none">
      <line x1={x1} x2={x2} y1={y} y2={y} />
      <polyline points={`${x1 + 7},${y - 3.5} ${x1},${y} ${x1 + 7},${y + 3.5}`} />
      <polyline points={`${x2 - 7},${y - 3.5} ${x2},${y} ${x2 - 7},${y + 3.5}`} />
    </g>
  );
}
const DashCircle = ({ cx, cy, r = 16 }: any) => (
  <circle cx={cx} cy={cy} r={r} fill="none" stroke="#111" strokeWidth={2.6} strokeDasharray="5 4" />
);
function Pill({ x, w = 39 }: any) {
  return <rect x={x} y={958} width={w} height={21} rx={10.5} fill="#555" stroke="#222" strokeWidth={1.5} />;
}

function Diagram() {
  const enhMid = [174.4, 222.6, 327.9, 469.3, 572.7];
  const pills = [155, 203, 309, 449.5, 552.6];
  return (
    <svg width={1358} height={1355} style={{ position: 'absolute', left: 0, top: 0 }}>
      <rect x={8.5} y={8.5} width={1347} height={1400} fill="none" stroke="#666" strokeWidth={1} />
      <T x={85} y={45} w={14} size={20} weight={700} family={FR}>A</T>
      <T x={84} y={574} w={14} size={20} weight={700} family={FR}>B</T>

      {/* ---------- Panel A left ---------- */}
      <rect x={110} y={30} width={559} height={319} fill="none" stroke={RED} strokeWidth={3.5} />
      <T x={389} y={71.7} w={189} size={30.5}>Confounder</T>
      <T x={389} y={114.3} w={237} size={26}>Gene Locus length</T>
      <ArrowLine x1={126} x2={656} y={187} />
      <Peak x={193.4} y={187} />
      <Peak x={340.6} y={187} />
      <Peak x={497} y={187} />
      <ArrowLine x1={126} x2={656} y={254} />
      <Tss x={160.5} top={231} color={GREEN} />
      <Tes x={319.5} top={231} color={GREEN} />
      <Tss x={371.5} top={231} color={GBLUE} />
      <Tes x={416} top={231} color={GBLUE} />
      <Tss x={530.5} top={231} color={GRED} />
      <Tes x={591} top={231} color={GRED} />
      <path d={dbl(125, 273, 308.5, 32, 18.7, 9.3)} fill={GREEN} />
      <path d={dbl(273, 458.5, 308.5, 32.5, 18.7, 9.3)} fill={GBLUE} />
      <path d={dbl(458.5, 657.7, 308.5, 32.5, 18.7, 9.3)} fill={GRED} />
      <DashCircle cx={273} cy={308.5} />
      <DashCircle cx={458.5} cy={308.5} />

      <VArrow x={209.5} y1={355} y2={441.7} color={RED} />
      <VArrow x={571} y1={355} y2={441.7} color={RED} />
      <rect x={110} y={446} width={199} height={73} fill="none" stroke={RED} strokeWidth={3.5} />
      <rect x={471} y={446} width={198} height={73} fill="none" stroke={RED} strokeWidth={3.5} />
      <T x={207} y={475} w={151} size={24.5}>Peak distance</T>
      <T x={209.6} y={506} w={66} size={24.5}>to TSS</T>
      <T x={571} y={490} w={108.5} size={26.5}>GO Term</T>
      <DashArrow y={482.3} color={RED} />

      {/* scatter frames */}
      <rect x={702} y={30} width={573} height={489} fill="none" stroke={RED} strokeWidth={3.5} />
      <rect x={703} y={558} width={573} height={531} fill="none" stroke={BLUE} strokeWidth={3.5} />

      <T x={1000} y={82} w={142} size={19} weight={700} family={FR}>Gm12878 Six5</T>
      <T x={1000.5} y={493.3} w={170} size={16.5} family={FR}>log gene locus length</T>
      <T x={726} y={266.7} w={107} size={16.5} family={FR} rotate={-90}>log Dist to TSS</T>
      <T x={1005} y={609} w={139} size={19} weight={700} family={FR}>Gm12878 Six5</T>
      <T x={1005.5} y={1059.4} w={224} size={16.5} family={FR}>log Average dist to enhancer</T>
      <T x={738} y={812.5} w={157} size={16.5} family={FR} rotate={-90}>log Dist to enhancer</T>

      <line x1={108} x2={1277} y1={539} y2={539} stroke="#8a8a8a" strokeWidth={2} />

      {/* ---------- Panel B left ---------- */}
      <rect x={110} y={559} width={199} height={74} fill="none" stroke={BLUE} strokeWidth={3.5} />
      <rect x={471} y={559} width={198} height={74} fill="none" stroke={BLUE} strokeWidth={3.5} />
      <T x={207} y={588.3} w={151} size={24.5}>Peak distance</T>
      <T x={209.3} y={620} w={133.4} size={24.5}>to enhancer</T>
      <T x={571} y={605} w={108.5} size={26.5}>GO Term</T>
      <DashArrow y={596.7} color={BLUE} />
      <VArrow x={209.5} y1={636.7} y2={725} color={BLUE} />
      <VArrow x={571} y1={636.7} y2={725} color={BLUE} />

      <rect x={109} y={728} width={558} height={360} fill="none" stroke={BLUE} strokeWidth={3.5} />
      <T x={394} y={770} w={190} size={30.5}>Confounder</T>
      <T x={393.6} y={809} w={376} size={25}>Density of enhancer per gene</T>

      {[287.7, 501.8].map((x) => (
        <line key={x} x1={x} x2={x} y1={875} y2={1052} stroke="#111" strokeWidth={1.5} strokeDasharray="3 3" />
      ))}
      {enhMid.map((x) => (
        <line key={x} x1={x} x2={x} y1={980} y2={1050} stroke="#111" strokeWidth={1.5} strokeDasharray="3 3" />
      ))}

      <ArrowLine x1={129.8} x2={659.6} y={875} />
      <Peak x={287.7} y={875} h={32} />
      <Peak x={501.8} y={875} h={32} />
      <line x1={287.7} x2={287.7} y1={833} y2={875} stroke="#111" strokeWidth={1.5} />
      <line x1={501.8} x2={501.8} y1={833} y2={875} stroke="#111" strokeWidth={1.5} />
      <ArrowLine x1={129.8} x2={659.6} y={929.3} />
      <Tss x={210} top={906} color={GBLUE} />
      <Tes x={404.6} top={906} color={GBLUE} />
      <Tss x={540} top={906} color={GRED} />
      <Tes x={593.5} top={906} color={GRED} />
      <ArrowLine x1={129.8} x2={659.6} y={968.3} />
      {pills.map((x) => (
        <Pill key={x} x={x} />
      ))}
      {enhMid.map((x) => (
        <line key={'s' + x} x1={x} x2={x} y1={952} y2={985} stroke="#111" strokeWidth={1.5} />
      ))}
      <path d={dbl(131.3, 382.7, 1010.7, 32, 19, 9)} fill={GBLUE} />
      <path d={dbl(384.5, 657.4, 1010.7, 33, 19, 9)} fill={GRED} />
      <DashCircle cx={383.5} cy={1010.7} />
      <DistArrow x1={223.7} x2={283} y={1030} />
      <DistArrow x1={175.5} x2={283} y={1044} />
      <DistArrow x1={292} x2={326} y={1044} />
      <DistArrow x1={471} x2={499.5} y={1044} />
      <DistArrow x1={504} x2={569} y={1044} />
      <T x={384.8} y={1073.3} w={216} size={17}>Peak distance to enhancers</T>

      {/* ---------- Legend ---------- */}
      <rect x={108.5} y={1112.5} width={1168} height={99} fill="none" stroke="#222" strokeWidth={2.6} />
      <rect x={121.5} y={1154} width={13.5} height={43} fill="#555" />
      <path d="M127.5,1154 V1133 H141" stroke="#111" strokeWidth={2.4} fill="none" />
      <path d="M146,1133 L139.5,1129 L139.5,1137 Z" fill="#111" />
      <T x={150} y={1160.7} w={126} size={19.5} anchor="start">Transcription</T>
      <T x={148.5} y={1187} w={134.5} size={19.5} anchor="start">start site (TSS)</T>

      <rect x={324.2} y={1154} width={13.5} height={43} fill="#555" />
      <line x1={331} x2={331} y1={1154} y2={1135} stroke="#111" strokeWidth={2.4} />
      <line x1={324} x2={338} y1={1135} y2={1135} stroke="#111" strokeWidth={3.6} />
      <T x={346.7} y={1160.7} w={126} size={19.5} anchor="start">Transcription</T>
      <T x={346.7} y={1187} w={128} size={19.5} anchor="start">end site (TES)</T>

      <rect x={500.6} y={1156.7} width={31} height={21.6} rx={9} fill="#555" stroke="#222" strokeWidth={1.5} />
      <line x1={516.4} x2={516.4} y1={1149} y2={1187} stroke="#111" strokeWidth={1.5} />
      <T x={614.4} y={1160} w={100} size={19.5}>Enhancers</T>
      <T x={616} y={1187} w={148} size={19.5}>(with midpoint)</T>

      <path d={dbl(713, 773, 1166.7, 17, 11, 5.5)} fill="#777" />
      <T x={777} y={1173.3} w={110} size={19.5} anchor="start">Gene Locus</T>

      <Peak x={923} y={1183.5} h={36} hw={13.5} fill="#555" />
      <line x1={923} x2={923} y1={1143} y2={1192} stroke="#111" strokeWidth={1.5} />
      <T x={1017} y={1160} w={53} size={19.5}>Peaks</T>
      <T x={1017} y={1187} w={146} size={19.5}>(with midpoint)</T>

      <DashCircle cx={1121} cy={1166.7} r={15.5} />
      <T x={1206} y={1146.7} w={87} size={19.5}>Midpoint</T>
      <T x={1205} y={1173.3} w={126} size={19.5}>between two</T>
      <T x={1207.5} y={1200} w={129} size={19.5}>adjacent TSSs</T>

      {/* ---------- Caption ---------- */}
      <text x={25} y={1268} fontSize={17.5} fontFamily={FR} fill="#3a3a3a" textLength={1291} lengthAdjust="spacingAndGlyphs">
        <tspan fontWeight={700} fill="#111">FIGURE 1</tspan>{' | Overview of how ProxReg adjusts for confounding variables. We describe the ProxReg adjustments in two parts. '}
        <tspan fontWeight={700} fill="#111">(A)</tspan>{' When testing proximity to TSSs,'}
      </text>
      <text x={25} y={1293} fontSize={17.5} fontFamily={FR} fill="#3a3a3a" textLength={1280} lengthAdjust="spacingAndGlyphs">
        {'we normalize the peak distances to TSSs according to their relationship with gene locus lengths. '}
        <tspan fontWeight={700} fill="#111">(B)</tspan>{' When testing proximity to enhancer, we normalize the peak'}
      </text>
      <text x={25} y={1318} fontSize={17.5} fontFamily={FR} fill="#3a3a3a" textLength={1307} lengthAdjust="spacingAndGlyphs">
        distances to enhancers according to their relationship with enhancer density, modeled by the average distance of any peak to an enhancer. In both cases, we avoid
      </text>
      <text x={25} y={1343} fontSize={17.5} fontFamily={FR} fill="#3a3a3a" textLength={763} lengthAdjust="spacingAndGlyphs">
        a potential confounding effect, as shown by the arrows between variables on the left-hand side.
      </text>
    </svg>
  );
}

export default function App() {
  return (
    <div style={{ position: 'absolute', left: 0, top: 0, width: 1358, height: 1355, background: '#fff', overflow: 'hidden' }}>
      <Diagram />
      <div style={{ position: 'absolute', left: 700, top: 28 }}>
        <ScatterPanel w={577} h={493} margin={{ top: 86, right: 72, bottom: 42, left: 37 }}
          xDom={[2.632, 16.58]} yDom={[-0.54, 14.49]} xTicks={xTicksA} yTicks={yTicksA}
          pts={ptsA} curve={fromList(curveA)} xTickMargin={14} />
      </div>
      <div style={{ position: 'absolute', left: 701, top: 556 }}>
        <ScatterPanel w={577} h={535} margin={{ top: 89, right: 73, bottom: 51, left: 45 }}
          xDom={[2.51, 15.14]} yDom={[-0.62, 15.25]} xTicks={xTicksB} yTicks={yTicksB}
          pts={ptsB} curve={fromList(curveB)} xTickMargin={15} />
      </div>
    </div>
  );
}
